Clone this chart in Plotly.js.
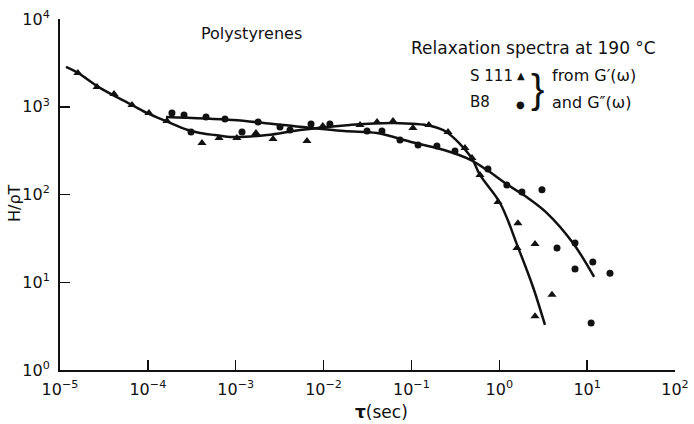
<!DOCTYPE html>
<html>
<head>
<meta charset="utf-8">
<script src="https://cdn.plot.ly/plotly-3.0.1.min.js"></script>
<style>html,body{margin:0;padding:0;background:#fff;}#chart{width:694px;height:424px;}</style>
</head>
<body>
<div id="chart"></div>
<script>
// S 111 data points (triangles)
const s111Tau = [1.6e-5, 2.64e-5, 4.12e-5, 6.6e-5, 1.03e-4, 1.65e-4, 4.13e-4, 6.46e-4, 1.03e-3, 1.70e-3, 2.66e-3, 6.47e-3, 9.8e-3, 0.026, 0.0406, 0.0617, 0.104, 0.158, 0.261, 0.407, 0.489, 0.603, 0.966, 1.63, 1.59, 2.55, 3.98, 2.55];
const s111H = [2430, 1680, 1400, 1050, 850, 690, 386, 440, 440, 502, 429, 407, 604, 620, 670, 688, 573, 620, 516, 339, 261, 167, 82, 47, 24.6, 27.3, 7.2, 4.1];

// B8 data points (dots)
const b8Tau = [1.88e-4, 2.58e-4, 3.10e-4, 4.59e-4, 7.55e-4, 1.18e-3, 1.80e-3, 3.19e-3, 4.15e-3, 7.2e-3, 0.0118, 0.0312, 0.0462, 0.0741, 0.119, 0.195, 0.313, 0.743, 1.22, 1.81, 3.06, 4.54, 7.28, 7.28, 11.6, 18.2, 11.1];
const b8H = [849, 805, 516, 764, 725, 516, 670, 588, 543, 636, 636, 529, 529, 418, 366, 357, 313, 195, 128, 107, 113, 24.6, 28.0, 14.2, 17.0, 12.7, 3.43];

// Fitted curves
const fitS111Tau = [1.17e-5, 1.6e-5, 2.85e-5, 6.6e-5, 1.03e-4, 1.6e-4, 2.86e-4, 3.92e-4, 5.8e-4, 9.3e-4, 2.27e-3, 5.4e-3, 0.02, 0.0634, 0.167, 0.25, 0.476, 0.603, 1.02, 1.63, 2.42, 3.31];
const fitS111H = [2840, 2430, 1640, 1047, 827, 688, 543, 502, 476, 452, 476, 543, 620, 653, 604, 516, 268, 167, 80, 25.2, 8.83, 3.26];
const fitB8Tau = [1.61e-4, 9.3e-4, 3.45e-3, 0.0171, 0.0406, 0.0989, 0.235, 0.476, 0.724, 1.26, 2.1, 3.49, 6.9, 12.0];
const fitB8H = [764, 706, 620, 529, 502, 397, 321, 247, 190, 128, 92, 61.5, 28, 11.5];

// Tick labels
const xTickVals = [1e-5, 1e-4, 1e-3, 1e-2, 1e-1, 1, 10, 100];
const xTickText = ['10<sup>−5</sup>', '10<sup>−4</sup>', '10<sup>−3</sup>', '10<sup>−2</sup>', '10<sup>−1</sup>', '10<sup>0</sup>', '10<sup>1</sup>', '10<sup>2</sup>'];
const yTickVals = [1, 10, 100, 1000, 10000];
const yTickText = ['10<sup>0</sup>', '10<sup>1</sup>', '10<sup>2</sup>', '10<sup>3</sup>', '10<sup>4</sup>'];

const FONT = 'DejaVu Sans, Liberation Sans, sans-serif';
const INK = '#111';

const traces = [
  {x: fitS111Tau, y: fitS111H, mode: 'lines', line: {color: INK, width: 2.5, shape: 'spline', smoothing: 1}, hoverinfo: 'skip'},
  {x: fitB8Tau, y: fitB8H, mode: 'lines', line: {color: INK, width: 2.5, shape: 'spline', smoothing: 1}, hoverinfo: 'skip'},
  {x: s111Tau, y: s111H, mode: 'markers', name: 'S 111', marker: {symbol: 'triangle-up', size: 8, color: INK}},
  {x: b8Tau, y: b8H, mode: 'markers', name: 'B8', marker: {symbol: 'circle', size: 7, color: INK}}
];

function ann(text, x, y, size, opts) {
  return Object.assign({text: text, x: x, y: y, xref: 'paper', yref: 'paper', showarrow: false,
    font: {family: FONT, size: size, color: INK}, xanchor: 'center', yanchor: 'middle'}, opts || {});
}

const layout = {
  width: 694, height: 424,
  margin: {l: 60, r: 19, t: 19, b: 54},
  paper_bgcolor: '#fff', plot_bgcolor: '#fff',
  showlegend: false,
  font: {family: FONT, size: 15, color: INK},
  xaxis: {
    type: 'log', range: [-5, 2], tickvals: xTickVals, ticktext: xTickText,
    ticks: 'inside', ticklen: 10, tickwidth: 1.5, tickcolor: INK, ticklabelstandoff: 4,
    showline: true, linecolor: INK, linewidth: 2, showgrid: false, zeroline: false,
    tickfont: {family: FONT, size: 16, color: INK}
  },
  yaxis: {
    type: 'log', range: [0, 4], tickvals: yTickVals, ticktext: yTickText,
    ticks: 'inside', ticklen: 10, tickwidth: 1.5, tickcolor: INK, ticklabelstandoff: 5,
    showline: true, linecolor: INK, linewidth: 2, showgrid: false, zeroline: false,
    tickfont: {family: FONT, size: 16, color: INK}
  },
  annotations: [
    ann('Polystyrenes', 0.312, 0.960, 16),
    ann('Relaxation spectra at 190 °C', 0.770, 0.917, 17),
    ann('S 111', 0.663, 0.838, 15, {xanchor: 'left'}),
    ann('▲', 0.750, 0.840, 10),
    ann('B8', 0.663, 0.7635, 15, {xanchor: 'left'}),
    ann('●', 0.748, 0.757, 10),
    ann('}', 0.776, 0.80, 40, {font: {family: 'Liberation Sans', size: 40, color: INK}}),
    ann('from G′(ω)', 0.797, 0.838, 16, {xanchor: 'left'}),
    ann('and G″(ω)', 0.797, 0.7635, 16, {xanchor: 'left'}),
    ann('H/ρT', -0.073, 0.476, 16, {textangle: -90}),
    ann('<b>τ</b>(sec)', 0.522, -0.120, 17)
  ]
};

Plotly.newPlot('chart', traces, layout, {staticPlot: true, displayModeBar: false});
</script>
</body>
</html>
